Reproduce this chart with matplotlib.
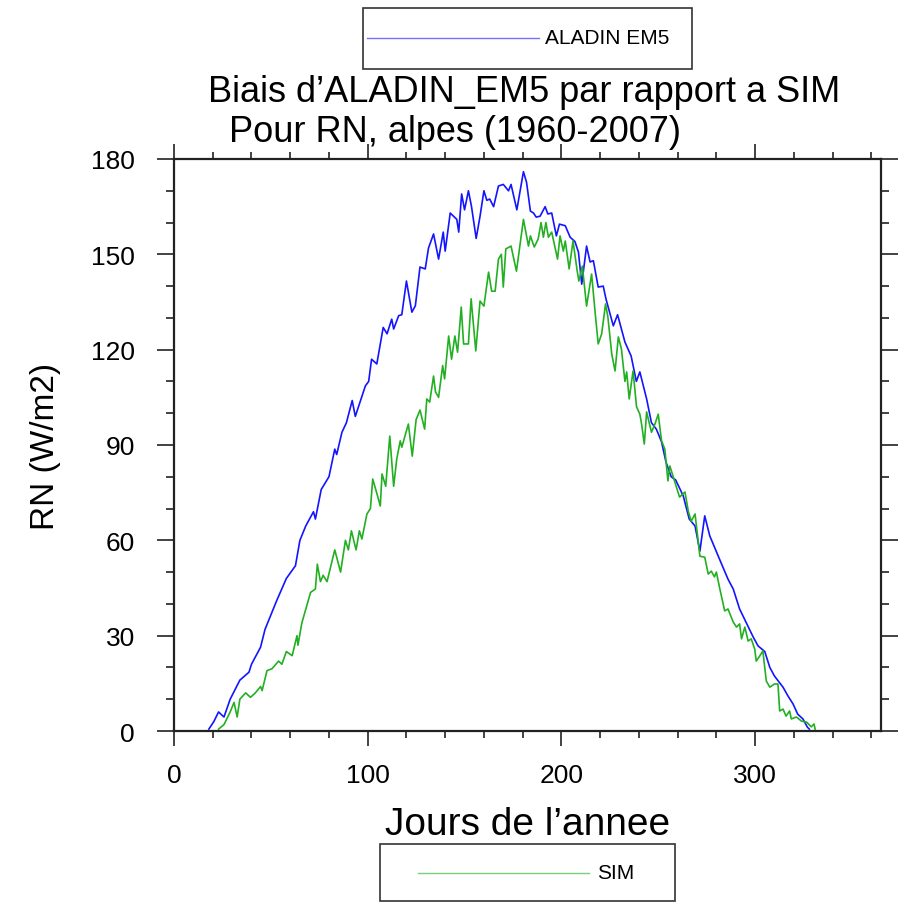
import numpy as np
import matplotlib
matplotlib.use("Agg")
import matplotlib.pyplot as plt
from matplotlib.ticker import MultipleLocator
from matplotlib.patches import Rectangle
from matplotlib.lines import Line2D

plt.rcParams['font.family'] = ['Liberation Sans', 'DejaVu Sans']

# ALADIN EM5 : jour de l'annee, RN moyen (W/m2)
aladin_days = np.array([
    18, 20.6, 23, 25.8, 29, 34, 38.7, 40, 44.7, 47, 53, 58, 62.7, 65, 68, 72, 73, 76, 80,
    83, 84, 86.7, 89, 92, 93.6, 98.8, 100.5, 102, 104.7, 108, 110, 112.4, 113.4, 116, 117.6,
    120, 122.8, 124.6, 127, 129.7, 131.4, 134, 136.6, 139, 140, 142.6, 146, 147, 148.5, 150,
    152, 153.6, 156, 158, 160, 161.5, 163, 165, 167.5, 170, 172.7, 174, 177, 180.4, 182, 184,
    185.6, 187, 189, 191.6, 193, 195, 197.4, 199, 202, 204.5, 207, 208.8, 210.5, 213, 214.8,
    216.5, 219, 221.6, 223, 226.8, 229, 232.8, 236, 238.7, 240.5, 244, 246.5, 249, 251.7, 254,
    256.7, 259, 262.9, 266, 269, 271.5, 274, 276.6, 281, 286, 288.7, 292, 294.7, 299, 301.5,
    305, 307.6, 310, 312, 314.4, 317, 319.6, 322, 324.7, 327, 328])
aladin_rn = np.array([
    0.6, 3, 6, 4.4, 10, 16, 18.5, 21, 26.4, 32, 41, 48, 52, 60, 64.5, 69, 66.7, 76, 80,
    88.7, 87, 94, 97, 104, 99, 108.6, 110, 117, 115.5, 127, 125, 129.6, 126.5, 130.7, 131,
    141.6, 131.8, 133.8, 146, 145.4, 152, 156.4, 148.5, 157, 151, 163, 161, 157, 169, 164,
    170, 165, 155, 162, 170, 167, 167.4, 165, 171.5, 172, 170, 172, 164, 176, 172.7, 163.6,
    163, 161.7, 162, 165, 162.7, 163, 155.8, 159.5, 159, 155.4, 154, 150.7, 140.6, 152.6, 147.6,
    148, 139.7, 140, 136, 127.5, 131, 122.4, 118, 110, 113, 104.5, 97, 95, 91, 84.6,
    80, 79, 74, 66.7, 64.5, 56.6, 67.7, 61.4, 55, 47.8, 44.7, 38.4, 35, 29.6, 26.8,
    25, 20, 17.3, 15.7, 13.8, 11, 8.5, 5.3, 3.8, 1.2, 0.6])

# SIM
sim_days = np.array([
    23, 25.8, 29, 31, 32.6, 34, 37, 39.5, 42, 44.7, 45.5, 48, 50.6, 54, 55.7, 58, 61, 63.5,
    64, 66, 68, 70.5, 73, 74, 75.6, 77, 79, 83, 86, 88.5, 90, 91.6, 94, 95.7, 97, 99.6,
    101.4, 102.6, 104.8, 106.5, 107.4, 109.3, 111.4, 113.4, 115, 116.8, 117.6, 121, 123, 125,
    127, 129.4, 130.5, 132, 134, 135, 136.6, 138.7, 139.7, 141.8, 143.3, 145, 146.4, 148.3,
    149.5, 152, 153.4, 155.8, 158, 160, 162.4, 164, 165.8, 167.5, 169, 170, 171.3, 174, 176.8,
    180.4, 183, 184, 186, 188, 189.5, 190.7, 192, 193.3, 195, 198, 199.3, 201, 202, 204, 206,
    208, 209, 210.8, 213, 215.6, 217.4, 219, 220.8, 222.8, 224, 226, 227.7, 229.4, 231, 232.8,
    233.7, 235, 237, 238.8, 240.5, 241.4, 242.8, 244, 246.5, 248.3, 250, 251.7, 253.4, 255,
    256, 258.6, 261, 263.8, 265.5, 267, 269, 271.5, 274, 275.8, 277.4, 279, 280, 281.8, 284.3,
    286, 288.7, 290.4, 292, 293, 294.7, 296.4, 298, 299.8, 300.6, 302.4, 304, 305.8, 307.6,
    310, 311.8, 312.7, 314.4, 316, 317.8, 318.7, 321.3, 324, 326.6, 329, 330.4, 331])
sim_rn = np.array([
    0.6, 2, 6, 9, 4.4, 10, 12, 10.6, 12, 14, 12.7, 19, 19.6, 22, 21, 25, 23.7, 30,
    27, 34, 38.3, 43.6, 44.7, 52.5, 47, 49, 47, 57, 50, 60, 57, 63, 57, 63, 60.4, 68.3,
    70, 79.3, 74.6, 70.8, 80.9, 77, 92.8, 77, 85.6, 91.3, 89.3, 96.6, 86.5, 98,
    101, 95, 104.5, 103.5, 111.7, 106.7, 105, 115, 110.8, 124.3, 117, 124.3, 119.2, 133.4,
    121.8, 121.8, 136, 119.6, 135.3, 133.7, 144.4, 138.4, 138.4, 148.5, 150, 139.7, 151.7, 152.6, 144.7,
    161, 152.6, 155.8, 152.3, 154.8, 160, 155.4, 160, 155.4, 157, 148.5, 155.8, 151, 154.2, 145.4, 154.2,
    145.4, 141.6, 146.3, 133.7, 143.8, 131.8, 121.8, 125, 134.4, 130.3, 118.6, 113.3, 124, 120.2, 110,
    113, 104.5, 113.3, 102, 99.7, 96.6, 90.3, 100.4, 94, 96.6, 99.7, 91.3, 88.7, 78.7,
    83.4, 78.3, 73.6, 75.2, 69.2, 66, 68.3, 55, 54.7, 49.4, 50.3, 48.5, 50, 44.7, 37.8,
    38.4, 34.3, 32.7, 33.7, 29, 32.7, 28.3, 29, 25.8, 22, 23.6, 25.2, 15.7, 13.8,
    14.8, 14.8, 6.3, 6.9, 4.7, 6.3, 3.8, 4.4, 3.1, 2.8, 1.3, 2.2, 0.6])

blue = '#1414ff'
green = '#22b022'

W, H = 900, 904
fig = plt.figure(figsize=(W / 100, H / 100), dpi=100)
ax = fig.add_axes([174 / W, 1 - 732 / H, 707 / W, 572 / H])

ax.plot(aladin_days, aladin_rn, color=blue, lw=1.2)
ax.plot(sim_days, sim_rn, color=green, lw=1.2)

ax.set_xlim(0, 365)
ax.set_ylim(0, 180)
ax.xaxis.set_major_locator(MultipleLocator(100))
ax.xaxis.set_minor_locator(MultipleLocator(20))
ax.yaxis.set_major_locator(MultipleLocator(30))
ax.yaxis.set_minor_locator(MultipleLocator(10))
ax.tick_params(which='both', direction='out', top=True, right=True, width=1.2, color='#222222')
ax.tick_params(axis='x', which='major', length=11, pad=12, labelsize=19)
ax.tick_params(axis='x', which='minor', length=5)
ax.tick_params(axis='y', which='major', length=12, pad=16, labelsize=19)
ax.tick_params(axis='y', which='minor', length=6)
for s in ax.spines.values():
    s.set_linewidth(1.6)
    s.set_color('#222222')

ax.set_xlabel('Jours de l\u2019annee', fontsize=28, labelpad=14)
ax.set_ylabel('RN (W/m2)', fontsize=24, labelpad=22)

# titre sur deux lignes, la seconde decalee vers la gauche comme dans l'original
fig.text(524 / W, 1 - 102 / H, 'Biais d\u2019ALADIN_EM5 par rapport a SIM',
         fontsize=26, ha='center', va='baseline')
fig.text(455 / W, 1 - 142 / H, 'Pour RN, alpes (1960-2007)',
         fontsize=26, ha='center', va='baseline')


def legend_box(x0, y0, x1, y1, lx0, lx1, ly, tx, label, color):
    fig.add_artist(Rectangle((x0 / W, 1 - y1 / H), (x1 - x0) / W, (y1 - y0) / H,
                             transform=fig.transFigure, fill=False,
                             edgecolor='#333333', lw=1.2))
    fig.add_artist(Line2D([lx0 / W, lx1 / W], [1 - ly / H, 1 - ly / H],
                          transform=fig.transFigure, color=color, lw=1.0, alpha=0.6))
    fig.text(tx / W, 1 - ly / H, label, fontsize=15, ha='left', va='center')


legend_box(363, 9, 692, 70, 367, 539, 39, 545, 'ALADIN EM5', blue)
legend_box(380, 845, 675, 902, 418, 589, 874, 597, 'SIM', green)

fig.savefig('out.png', dpi=100)
